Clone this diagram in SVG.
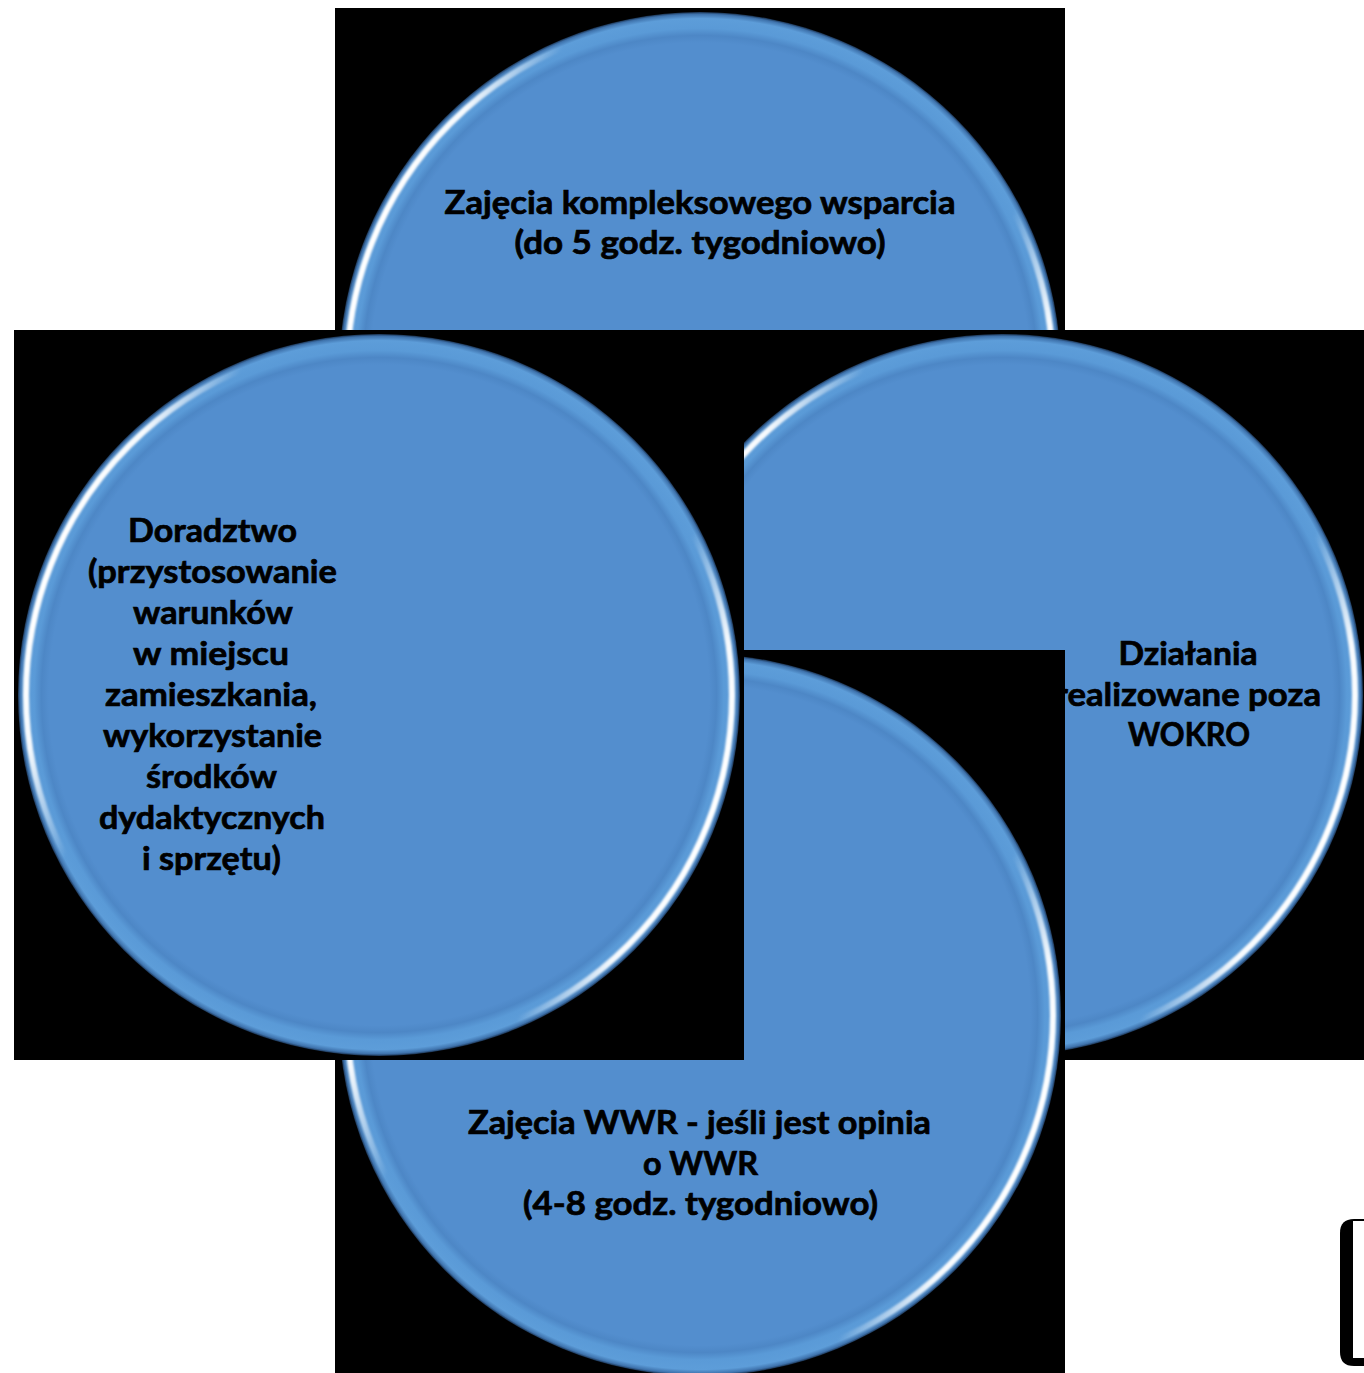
<svg xmlns="http://www.w3.org/2000/svg" width="1364" height="1373" viewBox="0 0 1364 1373">
<defs>
<style>
.bg{fill:#000}
.body{fill:url(#bodyGrad)}
.spec{fill:none;stroke:url(#specGrad);stroke-width:6;filter:url(#soft)}
.t{font-family:Lato,"Liberation Sans",sans-serif;font-weight:700;font-size:32px;fill:#000;stroke:#000;stroke-width:0.7;text-anchor:middle}
</style>
<radialGradient id="bodyGrad" cx="0.5" cy="0.5" r="0.5">
<stop offset="0" stop-color="#538ECE"/>
<stop offset="0.915" stop-color="#538ECE"/>
<stop offset="0.935" stop-color="#4D87C6"/>
<stop offset="0.955" stop-color="#5A9AD7"/>
<stop offset="0.982" stop-color="#5D9DD9"/>
<stop offset="0.994" stop-color="#3E72AC"/>
<stop offset="1" stop-color="#1A3250"/>
</radialGradient>
<linearGradient id="specGrad" x1="0.03" y1="0.33" x2="0.97" y2="0.67">
<stop offset="0" stop-color="#fff" stop-opacity="1"/>
<stop offset="0.06" stop-color="#fff" stop-opacity="0.95"/>
<stop offset="0.16" stop-color="#fff" stop-opacity="0"/>
<stop offset="0.84" stop-color="#fff" stop-opacity="0"/>
<stop offset="0.94" stop-color="#fff" stop-opacity="0.95"/>
<stop offset="1" stop-color="#fff" stop-opacity="1"/>
</linearGradient>
<filter id="soft" x="-5%" y="-5%" width="110%" height="110%">
<feGaussianBlur stdDeviation="1"/>
</filter>
</defs>
<rect width="1364" height="1373" fill="#fff"/>
<g id="connectors"/>
<g id="node-top">
<rect class="bg" x="335" y="8" width="730" height="730"/>
<circle class="body" cx="700" cy="373" r="361"/>
<circle class="spec" cx="700" cy="373" r="353"/>
<text class="t" x="700" y="214" textLength="511" lengthAdjust="spacingAndGlyphs">Zajęcia kompleksowego wsparcia</text>
<text class="t" x="700" y="254" textLength="371" lengthAdjust="spacingAndGlyphs">(do 5 godz. tygodniowo)</text>
</g>
<g id="node-right">
<rect class="bg" x="637" y="330" width="730" height="730"/>
<circle class="body" cx="1002" cy="695" r="361"/>
<circle class="spec" cx="1002" cy="695" r="353"/>
<text class="t" x="1188" y="665" textLength="139" lengthAdjust="spacingAndGlyphs">Działania</text>
<text class="t" x="1188" y="705.5" textLength="266" lengthAdjust="spacingAndGlyphs">realizowane poza</text>
<text class="t" x="1189" y="746" textLength="122" lengthAdjust="spacingAndGlyphs">WOKRO</text>
</g>
<g id="node-bottom">
<rect class="bg" x="335" y="650" width="730" height="730"/>
<circle class="body" cx="700" cy="1015" r="361"/>
<circle class="spec" cx="700" cy="1015" r="353"/>
<text class="t" x="699.5" y="1134" textLength="463" lengthAdjust="spacingAndGlyphs">Zajęcia WWR - jeśli jest opinia</text>
<text class="t" x="700.5" y="1174.5" textLength="115" lengthAdjust="spacingAndGlyphs">o WWR</text>
<text class="t" x="700.5" y="1215" textLength="355" lengthAdjust="spacingAndGlyphs">(4-8 godz. tygodniowo)</text>
</g>
<g id="node-left">
<rect class="bg" x="14" y="330" width="730" height="730"/>
<circle class="body" cx="379" cy="695" r="361"/>
<circle class="spec" cx="379" cy="695" r="353"/>
<text class="t" x="212.5" y="541.5" textLength="169" lengthAdjust="spacingAndGlyphs">Doradztwo</text>
<text class="t" x="212.5" y="582.5" textLength="249" lengthAdjust="spacingAndGlyphs">(przystosowanie</text>
<text class="t" x="213" y="623.5" textLength="160" lengthAdjust="spacingAndGlyphs">warunków</text>
<text class="t" x="211" y="664.5" textLength="156" lengthAdjust="spacingAndGlyphs">w miejscu</text>
<text class="t" x="211" y="705.5" textLength="212" lengthAdjust="spacingAndGlyphs">zamieszkania,</text>
<text class="t" x="212.5" y="746.5" textLength="219" lengthAdjust="spacingAndGlyphs">wykorzystanie</text>
<text class="t" x="211.5" y="787.5" textLength="131" lengthAdjust="spacingAndGlyphs">środków</text>
<text class="t" x="212" y="828.5" textLength="226" lengthAdjust="spacingAndGlyphs">dydaktycznych</text>
<text class="t" x="211.5" y="869.5" textLength="139" lengthAdjust="spacingAndGlyphs">i sprzętu)</text>
</g>
<g id="corner-frame">
<path d="M1364,1219 H1354 Q1340,1219 1340,1233 V1352 Q1340,1366 1354,1366 H1364 Z" fill="#000"/>
<rect x="1353" y="1221" width="11" height="137" fill="#fff"/>
</g>
</svg>
